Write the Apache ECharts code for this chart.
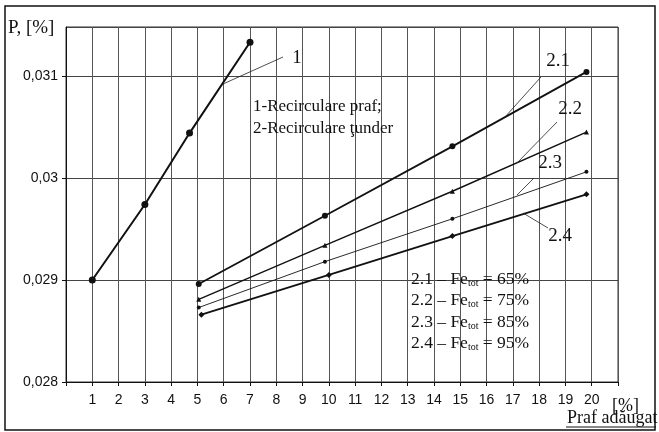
<!DOCTYPE html>
<html>
<head>
<meta charset="utf-8">
<script src="https://cdn.jsdelivr.net/npm/echarts@6/dist/echarts.min.js"></script>
<style>
  html, body { margin: 0; padding: 0; background: #fff; }
  #main { width: 659px; height: 432px; }
</style>
</head>
<body>
<div id="main"></div>
<script>
// data
var xTicks = [1, 2, 3, 4, 5, 6, 7, 8, 9, 10, 11, 12, 13, 14, 15, 16, 17, 18, 19, 20]
var yTicks = [0.028, 0.029, 0.030, 0.031]

var x1 = [1, 3, 4.7, 7]
var y1 = [0.029, 0.02974, 0.03044, 0.03133]

var x2 = [5.05, 9.85, 14.7, 19.8]
var x24 = [5.15, 10.0, 14.7, 19.8]
var y21 = [0.02896, 0.02963, 0.03031, 0.03104]
var y22 = [0.02881, 0.02934, 0.02987, 0.03045]
var y23 = [0.02873, 0.02918, 0.0296, 0.03006]
var y24 = [0.02866, 0.02905, 0.02943, 0.02984]

function pairs(xs, ys) {
  return xs.map(function (x, i) { return [x, ys[i]] })
}

var serif = '"Liberation Serif", "DejaVu Serif", serif'
var sans = '"Liberation Sans", Arial, sans-serif'

function line(name, data, width, symbol, size) {
  return {
    name: name,
    type: 'line',
    data: data,
    symbol: symbol,
    symbolSize: size,
    showSymbol: true,
    animation: false,
    lineStyle: { color: '#111', width: width },
    itemStyle: { color: '#111' },
    z: 5
  }
}

// leader line + label
function note(text, x, y, x1, y1, x2, y2) {
  return [
    { type: 'line', shape: { x1: x1, y1: y1, x2: x2, y2: y2 }, style: { stroke: '#222', lineWidth: 0.8 }, z: 10 },
    { type: 'text', x: x, y: y, style: { text: text, font: '19px ' + serif, fill: '#111', align: 'center', verticalAlign: 'middle' }, z: 10 }
  ]
}

function feRow(txt, pct, y) {
  return {
    type: 'text', left: 411, top: y, z: 10,
    style: {
      rich: {
        a: { fontFamily: serif, fontSize: 17.5, fill: '#111' },
        s: { fontFamily: serif, fontSize: 10, fill: '#111', padding: [8, 0, 0, 0] }
      },
      text: '{a|' + txt + ' \u2013 Fe}{s|tot}{a| = ' + pct + '}'
    }
  }
}

var chart = echarts.init(document.getElementById('main'), null, { renderer: 'canvas' })

var graphics = [
  // outer frame
  { type: 'rect', shape: { x: 5, y: 6, width: 650, height: 424 }, style: { fill: 'none', stroke: '#111', lineWidth: 1.5 }, z: 0 },
  { type: 'text', left: 8, top: 19, style: { text: 'P, [%]', font: '19px ' + serif, fill: '#111' } },
  { type: 'text', left: 612, top: 397, style: { text: '[%]', font: '18px ' + serif, fill: '#111' } },
  { type: 'text', left: 567, top: 409, style: { text: 'Praf adăugat', font: '18px ' + serif, fill: '#111' } },
  { type: 'line', shape: { x1: 566, y1: 427, x2: 656, y2: 427 }, style: { stroke: '#111', lineWidth: 1 } },
  { type: 'text', left: 253, top: 98, style: { text: '1-Recirculare praf;', font: '17px ' + serif, fill: '#111' }, z: 10 },
  { type: 'text', left: 253, top: 120, style: { text: '2-Recirculare ţunder', font: '17px ' + serif, fill: '#111' }, z: 10 },
  feRow('2.1', '65%', 270),
  feRow('2.2', '75%', 291),
  feRow('2.3', '85%', 313),
  feRow('2.4', '95%', 334)
]
graphics = graphics
  .concat(note('1', 297, 58, 283, 57, 223, 84))
  .concat(note('2.1', 558, 61, 541, 77, 505, 117))
  .concat(note('2.2', 570, 109, 557, 122, 517, 163))
  .concat(note('2.3', 550, 163, 534, 178, 517, 195))
  .concat(note('2.4', 560, 236, 548, 228, 523, 213))

chart.setOption({
  animation: false,
  backgroundColor: '#fff',
  grid: {
    left: 66, right: 41, top: 27, bottom: 50,
    show: true, borderColor: '#333', borderWidth: 1
  },
  xAxis: {
    type: 'value',
    min: 0,
    max: 21,
    interval: 1,
    axisLine: { lineStyle: { color: '#111', width: 1 } },
    axisTick: { show: true, length: 4, lineStyle: { color: '#111' } },
    axisLabel: {
      color: '#111', fontFamily: sans, fontSize: 14, margin: 11,
      formatter: function (v) { return xTicks.indexOf(v) >= 0 ? String(v) : '' }
    },
    splitLine: { show: true, lineStyle: { color: '#555', width: 1 } }
  },
  yAxis: {
    type: 'value',
    min: 0.028,
    max: 0.03148,
    interval: 0.001,
    axisLine: { show: true, lineStyle: { color: '#111', width: 1 } },
    axisTick: { show: true, length: 4, lineStyle: { color: '#111' } },
    axisLabel: {
      color: '#111', fontFamily: sans, fontSize: 14, margin: 8, showMaxLabel: false,
      formatter: function (v) {
        var hit = yTicks.filter(function (t) { return Math.abs(t - v) < 1e-7 })
        if (!hit.length) return ''
        return String(parseFloat(hit[0].toFixed(3))).replace('.', ',')
      }
    },
    splitLine: { show: true, lineStyle: { color: '#444', width: 1 } }
  },
  series: [
    line('1', pairs(x1, y1), 2, 'circle', 7),
    line('2.1', pairs(x2, y21), 1.8, 'circle', 6),
    line('2.2', pairs(x2, y22), 1.4, 'triangle', 5),
    line('2.3', pairs(x2, y23), 0.9, 'circle', 4),
    line('2.4', pairs(x24, y24), 1.8, 'diamond', 6)
  ],
  graphic: graphics
})
</script>
</body>
</html>
